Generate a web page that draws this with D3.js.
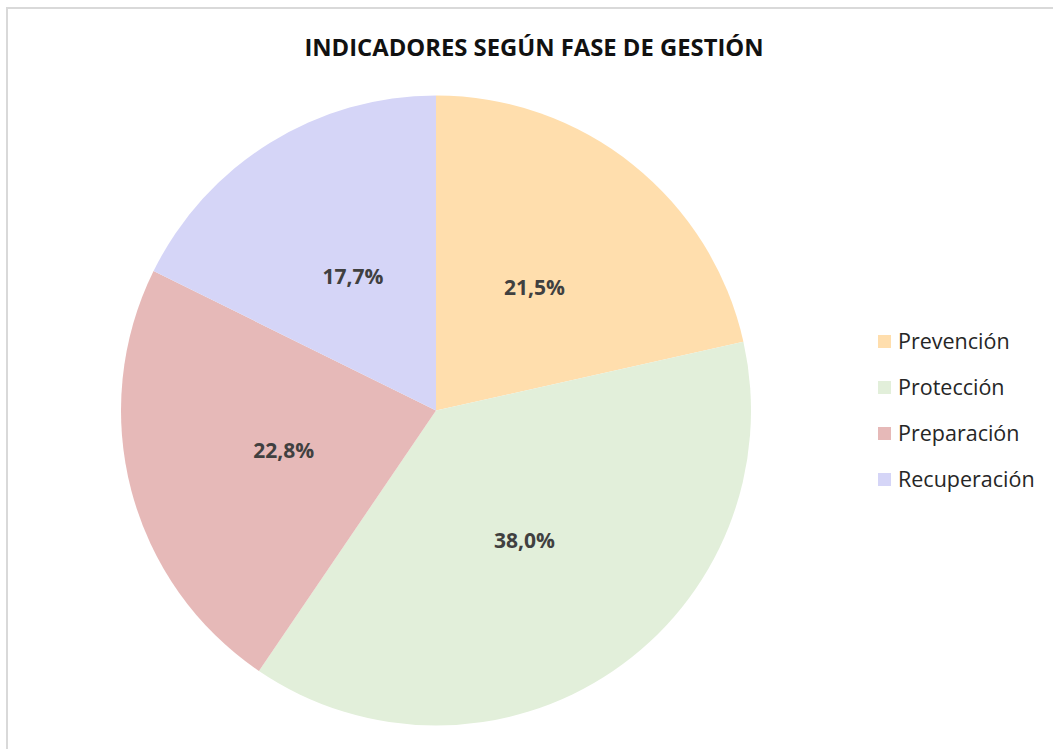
<!DOCTYPE html>
<html>
<head>
<meta charset="utf-8">
<script src="https://cdn.jsdelivr.net/npm/d3@7"></script>
<style>
  html, body { margin: 0; padding: 0; background: #fff; }
  svg { display: block; font-family: "Open Sans", "Noto Sans", sans-serif; }
</style>
</head>
<body>
<svg id="chart" width="1053" height="749"></svg>
<script>
// Share of indicators per management phase (percent)
const phases = ["Prevención", "Protección", "Preparación", "Recuperación"];
const shares = [21.5, 38.0, 22.8, 17.7];
const colors = ["#FFDEAD", "#E2EFDA", "#E6B9B8", "#D5D5F7"];
const title = "INDICADORES SEGÚN FASE DE GESTIÓN";

const svg = d3.select("#chart");
const W = 1053, H = 749;

// chart frame
svg.append("rect")
  .attr("x", 7).attr("y", 8)
  .attr("width", W + 10).attr("height", H + 10)
  .attr("fill", "#fff")
  .attr("stroke", "#d9d9d9").attr("stroke-width", 2);

svg.append("text")
  .attr("x", 534).attr("y", 56)
  .attr("text-anchor", "middle")
  .attr("font-size", 23.8).attr("font-weight", 700)
  .attr("fill", "#111")
  .text(title);

const cx = 436, cy = 410.5, r = 315;
const color = d3.scaleOrdinal().domain(phases).range(colors);

const data = phases.map((p, i) => ({ phase: p, value: shares[i] }));
const pie = d3.pie().value(d => d.value).sort(null);
const arc = d3.arc().innerRadius(0).outerRadius(r);
const labelArc = d3.arc().innerRadius(r * 0.5).outerRadius(r * 0.5);

const g = svg.append("g").attr("transform", `translate(${cx},${cy})`);
const arcs = pie(data);

g.selectAll("path.slice")
  .data(arcs)
  .join("path")
  .attr("class", "slice")
  .attr("d", arc)
  .attr("fill", d => color(d.data.phase));

const fmt = v => v.toFixed(1).replace(".", ",") + "%";
g.selectAll("text.val")
  .data(arcs)
  .join("text")
  .attr("class", "val")
  .attr("transform", d => `translate(${labelArc.centroid(d)})`)
  .attr("text-anchor", "middle")
  .attr("dy", "0.35em")
  .attr("font-size", 21).attr("font-weight", 700)
  .attr("fill", "#404040")
  .text(d => fmt(d.data.value));

// legend
const legend = svg.append("g").attr("transform", "translate(878,342)");
const rows = legend.selectAll("g")
  .data(phases)
  .join("g")
  .attr("transform", (d, i) => `translate(0,${i * 46})`);
rows.append("rect")
  .attr("x", 0).attr("y", -7).attr("width", 13).attr("height", 13)
  .attr("fill", d => color(d));
rows.append("text")
  .attr("x", 20).attr("y", -1).attr("dy", "0.35em")
  .attr("font-size", 21.5).attr("fill", "#262626")
  .text(d => d);
</script>
</body>
</html>
